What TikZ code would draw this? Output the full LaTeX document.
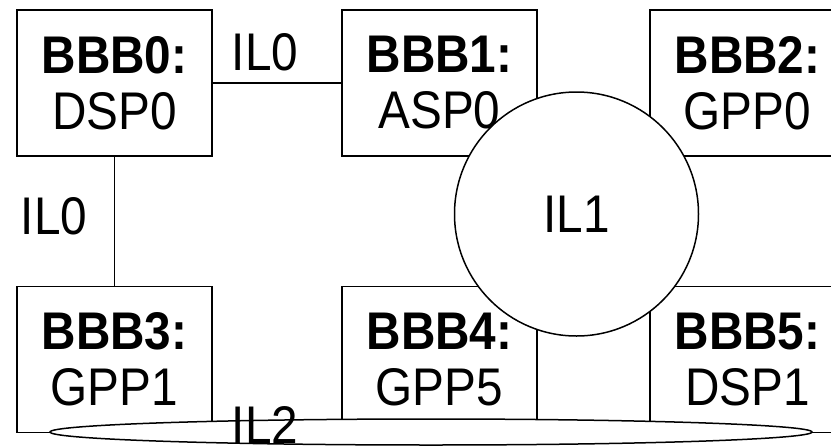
\documentclass[tikz,border=0pt]{standalone}
\usepackage{fontspec}
\setmainfont{Liberation Sans}[FakeStretch=0.9]
\usetikzlibrary{shapes.geometric}
\begin{document}
\begin{tikzpicture}[x=1pt,y=-1pt,line width=1.5pt,
  big/.style={font=\fontsize{53}{56}\selectfont},
  bbb/.style={big,draw,fill=white,minimum width=195pt,minimum height=146pt,align=center,inner sep=0pt},
  lbl/.style={big,inner sep=0pt},
  link/.style={line width=1.3pt}]
\clip (0,0) rectangle (831,445);
\node[bbb] (b0) at (114.5,83) {\textbf{BBB0:}\\DSP0};
\node[bbb] (b1) at (439.5,83) {\textbf{BBB1:}\\ASP0};
\node[bbb] (b2) at (747.5,83) {\textbf{BBB2:}\\GPP0};
\node[bbb] (b3) at (114.5,359.5) {\textbf{BBB3:}\\GPP1};
\node[bbb] (b4) at (439.5,359.5) {\textbf{BBB4:}\\GPP5};
\node[bbb] (b5) at (747.5,359.5) {\textbf{BBB5:}\\DSP1};
\draw[link] (b0) -- (b1);
\draw[link] (b0) -- (b3);
\node[lbl] (l01) at (265,52) {IL0};
\node[lbl] (l03) at (54,216) {IL0};
\node[big,draw,circle,fill=white,minimum size=244pt,inner sep=0pt] (il1) at (576.5,214) {IL1};
\node[draw,ellipse,fill=white,minimum width=762pt,minimum height=26pt,inner sep=0pt] (il2) at (431,432) {};
\node[lbl] (l2) at (265,424.5) {IL2};
\end{tikzpicture}
\end{document}
